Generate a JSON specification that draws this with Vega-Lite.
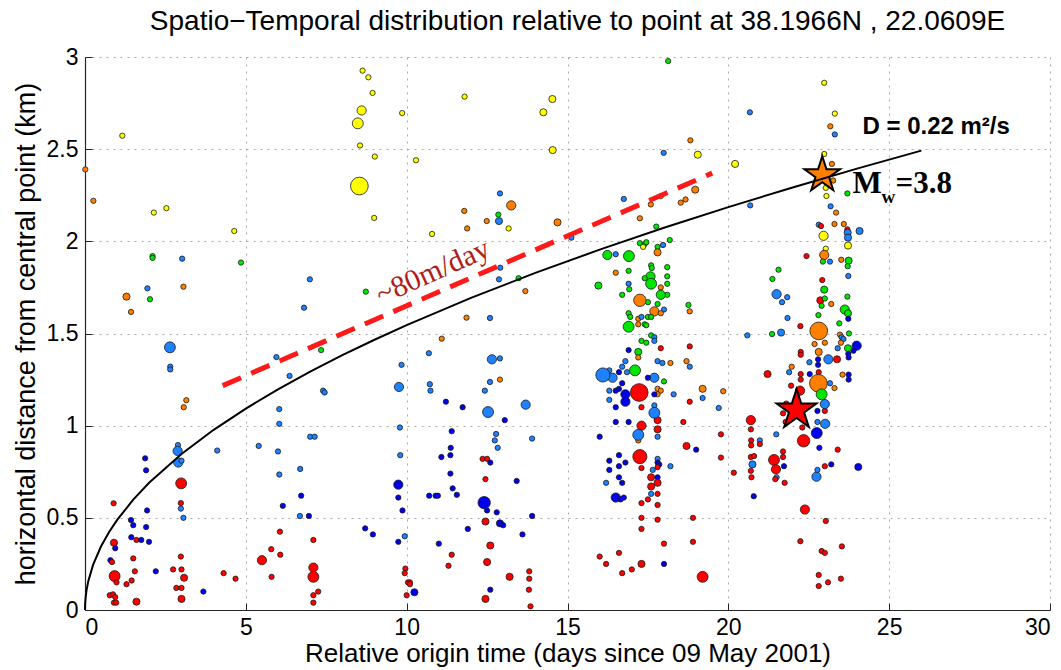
{
"$schema":"https://vega.github.io/schema/vega-lite/v6.json",
"width":965,"height":553,"autosize":"none",
"padding":{"left":85,"top":57,"right":11,"bottom":60},
"background":"white",
"title":{"text":"Spatio−Temporal distribution relative to point at 38.1966N , 22.0609E","font":"Liberation Sans","fontSize":28,"fontWeight":"normal","color":"#000","offset":10,"dx":10},
"config":{"view":{"stroke":null},
"axis":{"domainColor":"#262626","domainWidth":1.2,"tickColor":"#262626","tickSize":-7,"tickWidth":1,"labelFont":"Liberation Sans","labelFontSize":23,"labelColor":"#000","titleFont":"Liberation Sans","titleFontSize":27,"titleFontWeight":"normal","titleColor":"#000","grid":true,"gridColor":"#a8a8a8","gridDash":[2,5],"gridWidth":1,"gridOpacity":1}},
"datasets":{
"quakes":[
{"t":8.63,"r":2.926,"c":"Y","m":1},{"t":8.81,"r":2.89,"c":"Y","m":1},{"t":8.94,"r":2.805,"c":"Y","m":1},{"t":8.6,"r":2.71,"c":"Y","m":1.5},{"t":8.48,"r":2.64,"c":"Y","m":1.8},{"t":9.86,"r":2.696,"c":"Y","m":1},{"t":1.16,"r":2.573,"c":"Y","m":1},{"t":8.55,"r":2.52,"c":"Y","m":1},{"t":9.01,"r":2.46,"c":"Y","m":1},{"t":0.01,"r":2.39,"c":"O","m":1},{"t":0.26,"r":2.22,"c":"O","m":1},{"t":2.14,"r":2.156,"c":"Y","m":1},{"t":2.53,"r":2.18,"c":"Y","m":1},{"t":8.99,"r":2.127,"c":"Y","m":1},{"t":4.64,"r":2.056,"c":"Y","m":1},{"t":2.1,"r":1.92,"c":"G","m":1},{"t":2.1,"r":1.91,"c":"G","m":1},{"t":3.02,"r":1.906,"c":"L","m":1},{"t":4.85,"r":1.885,"c":"G","m":1},{"t":6.99,"r":1.794,"c":"L","m":1},{"t":8.73,"r":1.727,"c":"G","m":1},{"t":1.94,"r":1.745,"c":"L","m":1},{"t":3.06,"r":1.754,"c":"O","m":1},{"t":1.29,"r":1.7,"c":"O","m":1.2},{"t":2.02,"r":1.686,"c":"G","m":1},{"t":1.43,"r":1.617,"c":"O","m":1},{"t":6.81,"r":1.64,"c":"L","m":1},
{"t":18.13,"r":2.978,"c":"G","m":1},{"t":11.8,"r":2.785,"c":"Y","m":1},{"t":14.53,"r":2.772,"c":"Y","m":1.2},{"t":14.25,"r":2.7,"c":"Y","m":1.2},{"t":10.29,"r":2.44,"c":"Y","m":1},{"t":14.54,"r":2.495,"c":"Y","m":1.2},{"t":18.82,"r":2.548,"c":"O","m":1},{"t":17.99,"r":2.48,"c":"L","m":1},{"t":19.05,"r":2.47,"c":"Y","m":1.2},{"t":18.97,"r":2.28,"c":"O","m":1.2},{"t":12.9,"r":2.26,"c":"L","m":1},{"t":13.25,"r":2.195,"c":"O","m":1.5},{"t":11.79,"r":2.165,"c":"O","m":1},{"t":16.75,"r":2.23,"c":"L","m":1},{"t":17.9,"r":2.245,"c":"Y","m":1},{"t":17.59,"r":2.2,"c":"O","m":1},{"t":18.52,"r":2.21,"c":"O","m":1},{"t":18.67,"r":2.227,"c":"O","m":1},{"t":12.85,"r":2.145,"c":"G","m":1},{"t":12.87,"r":2.11,"c":"L","m":1.2},{"t":12.49,"r":2.11,"c":"O","m":1},{"t":11.88,"r":2.07,"c":"O","m":1},{"t":13.17,"r":2.07,"c":"Y","m":1},{"t":14.69,"r":2.103,"c":"O","m":1.2},{"t":10.79,"r":2.04,"c":"Y","m":1},{"t":17.25,"r":2.125,"c":"O","m":1},{"t":17.76,"r":2.08,"c":"G","m":1},{"t":15.12,"r":2.02,"c":"L","m":1},{"t":12.91,"r":1.857,"c":"L","m":1},{"t":12.87,"r":1.794,"c":"L","m":1},{"t":13.48,"r":1.8,"c":"G","m":1},{"t":13.69,"r":1.73,"c":"O","m":1},{"t":11.86,"r":1.586,"c":"O","m":1},{"t":12.59,"r":1.584,"c":"L","m":1},
{"t":22.98,"r":2.86,"c":"Y","m":1},{"t":20.67,"r":2.7,"c":"L","m":1},{"t":23.31,"r":2.693,"c":"Y","m":1},{"t":23.17,"r":2.624,"c":"O","m":1},{"t":23.31,"r":2.58,"c":"L","m":1},{"t":22.98,"r":2.474,"c":"Y","m":1},{"t":23.22,"r":2.42,"c":"O","m":1},{"t":20.21,"r":2.42,"c":"Y","m":1.2},{"t":23.26,"r":2.33,"c":"O","m":1},{"t":23.03,"r":2.29,"c":"Y","m":1},{"t":23.05,"r":2.246,"c":"Y","m":1},{"t":23.7,"r":2.26,"c":"G","m":1},{"t":20.68,"r":2.195,"c":"L","m":1},{"t":23.18,"r":2.19,"c":"L","m":1},{"t":23.35,"r":2.156,"c":"O","m":1},{"t":22.81,"r":2.09,"c":"L","m":1},{"t":22.88,"r":2.083,"c":"R","m":1},{"t":23.3,"r":2.094,"c":"O","m":1},{"t":23.59,"r":2.094,"c":"O","m":1},{"t":23.7,"r":2.065,"c":"R","m":1},{"t":24.08,"r":2.056,"c":"L","m":1.2},{"t":23.71,"r":2.047,"c":"L","m":1.2},{"t":23.72,"r":2.02,"c":"L","m":1.2},{"t":22.96,"r":2.03,"c":"Y","m":1.5},{"t":23.72,"r":1.977,"c":"Y","m":1.2},{"t":23.03,"r":1.96,"c":"Y","m":1},{"t":22.98,"r":1.926,"c":"O","m":1.5},{"t":22.43,"r":1.92,"c":"R","m":1},{"t":23.16,"r":1.89,"c":"L","m":1},{"t":23.51,"r":1.9,"c":"O","m":1},{"t":23.74,"r":1.895,"c":"G","m":1.2},{"t":23.71,"r":1.865,"c":"G","m":1},{"t":22.94,"r":1.89,"c":"G","m":1},{"t":23.73,"r":1.812,"c":"L","m":1},{"t":21.56,"r":1.846,"c":"G","m":1},{"t":21.37,"r":1.796,"c":"G","m":1},{"t":22.92,"r":1.79,"c":"R","m":1},{"t":22.98,"r":1.738,"c":"G","m":1.2},{"t":21.5,"r":1.713,"c":"L","m":1.5},{"t":21.83,"r":1.697,"c":"L","m":1},{"t":21.67,"r":1.67,"c":"L","m":1},{"t":22.86,"r":1.68,"c":"R","m":1.2},{"t":23.0,"r":1.69,"c":"G","m":1},{"t":22.9,"r":1.65,"c":"G","m":1},{"t":23.2,"r":1.66,"c":"O","m":1},{"t":23.7,"r":1.7,"c":"G","m":1},{"t":23.62,"r":1.63,"c":"G","m":1.5},{"t":23.72,"r":1.61,"c":"G","m":1.2},{"t":23.73,"r":1.58,"c":"B","m":1},{"t":22.8,"r":1.6,"c":"G","m":1},{"t":21.84,"r":1.584,"c":"L","m":1},{"t":22.24,"r":1.54,"c":"R","m":1},{"t":23.45,"r":1.555,"c":"G","m":1},{"t":20.59,"r":1.49,"c":"L","m":1},{"t":21.36,"r":1.497,"c":"G","m":1},{"t":21.64,"r":1.505,"c":"L","m":1.2},{"t":23.47,"r":1.494,"c":"O","m":1},{"t":23.52,"r":1.48,"c":"L","m":1},{"t":23.58,"r":1.47,"c":"L","m":1},{"t":23.75,"r":1.5,"c":"G","m":1},{"t":23.99,"r":1.434,"c":"B","m":1.5},{"t":23.89,"r":1.407,"c":"B","m":1},{"t":23.72,"r":1.42,"c":"G","m":1.2},{"t":23.73,"r":1.39,"c":"B","m":1},{"t":23.74,"r":1.37,"c":"B","m":1},{"t":23.5,"r":1.45,"c":"O","m":1},{"t":23.4,"r":1.42,"c":"L","m":1},{"t":23.0,"r":1.45,"c":"O","m":1},{"t":22.68,"r":1.443,"c":"O","m":1},{"t":22.81,"r":1.4,"c":"O","m":1.2},{"t":22.79,"r":1.36,"c":"B","m":1},{"t":22.79,"r":1.33,"c":"B","m":1},{"t":23.11,"r":1.36,"c":"L","m":1.5},{"t":23.38,"r":1.36,"c":"R","m":1.2},{"t":22.25,"r":1.4,"c":"R","m":1},{"t":22.25,"r":1.385,"c":"R","m":1},{"t":22.52,"r":1.344,"c":"L","m":1},{"t":21.97,"r":1.32,"c":"O","m":1},{"t":21.89,"r":1.29,"c":"L","m":1},{"t":21.22,"r":1.28,"c":"R","m":1.2},{"t":22.25,"r":1.28,"c":"R","m":1},{"t":22.53,"r":1.28,"c":"B","m":1},{"t":22.25,"r":1.25,"c":"R","m":1},{"t":22.81,"r":1.29,"c":"R","m":1},{"t":23.16,"r":1.23,"c":"L","m":1},{"t":23.3,"r":1.204,"c":"O","m":1},{"t":23.55,"r":1.277,"c":"O","m":1},{"t":23.74,"r":1.277,"c":"B","m":1},{"t":23.74,"r":1.25,"c":"B","m":1},{"t":21.95,"r":1.217,"c":"R","m":1},{"t":22.23,"r":1.19,"c":"R","m":1.5},{"t":21.8,"r":1.12,"c":"R","m":1},{"t":21.7,"r":1.067,"c":"R","m":1},{"t":21.78,"r":1.02,"c":"R","m":1},{"t":22.77,"r":1.08,"c":"B","m":1},{"t":23.0,"r":1.08,"c":"R","m":1},{"t":22.77,"r":1.02,"c":"L","m":1},{"t":23.01,"r":1.01,"c":"L","m":1.5},{"t":22.75,"r":0.96,"c":"B","m":1.8},{"t":22.3,"r":0.99,"c":"R","m":1},{"t":22.34,"r":0.918,"c":"R","m":2.1},{"t":22.83,"r":0.88,"c":"B","m":1},{"t":23.4,"r":0.87,"c":"R","m":1},{"t":21.49,"r":0.953,"c":"L","m":1},{"t":20.7,"r":1.03,"c":"R","m":1.5},{"t":20.7,"r":0.98,"c":"R","m":1},{"t":20.71,"r":0.92,"c":"R","m":1},{"t":20.71,"r":0.893,"c":"R","m":1},{"t":20.98,"r":0.92,"c":"L","m":1},{"t":20.98,"r":0.9,"c":"R","m":1},{"t":21.7,"r":0.86,"c":"R","m":1},{"t":21.7,"r":0.83,"c":"R","m":1},{"t":21.42,"r":0.814,"c":"R","m":1.8},{"t":21.48,"r":0.763,"c":"R","m":1.5},{"t":20.7,"r":0.83,"c":"R","m":1},{"t":20.8,"r":0.835,"c":"R","m":1},{"t":20.75,"r":0.79,"c":"L","m":1.2},{"t":20.7,"r":0.755,"c":"R","m":1},{"t":20.72,"r":0.72,"c":"R","m":1},{"t":20.17,"r":0.745,"c":"R","m":1},{"t":21.5,"r":0.72,"c":"L","m":1},{"t":21.46,"r":0.71,"c":"R","m":1},{"t":21.75,"r":0.69,"c":"R","m":1},{"t":21.73,"r":0.78,"c":"B","m":1},{"t":22.74,"r":0.723,"c":"L","m":1.5},{"t":22.77,"r":0.76,"c":"L","m":1},{"t":23.0,"r":0.78,"c":"R","m":1},{"t":23.2,"r":0.79,"c":"B","m":1},{"t":24.04,"r":0.776,"c":"B","m":1.2},{"t":20.79,"r":0.617,"c":"B","m":1},{"t":22.38,"r":0.545,"c":"R","m":1.5},{"t":23.03,"r":0.483,"c":"R","m":1},{"t":22.24,"r":0.373,"c":"R","m":1},{"t":22.9,"r":0.32,"c":"R","m":1},{"t":23.0,"r":0.31,"c":"R","m":1},{"t":23.53,"r":0.345,"c":"R","m":1},{"t":22.81,"r":0.19,"c":"R","m":1},{"t":23.1,"r":0.15,"c":"R","m":1},{"t":23.5,"r":0.17,"c":"R","m":1},{"t":22.81,"r":0.13,"c":"R","m":1},{"t":19.84,"r":1.187,"c":"O","m":1},{"t":19.7,"r":1.096,"c":"L","m":1},{"t":19.77,"r":0.953,"c":"R","m":1},{"t":19.77,"r":0.827,"c":"R","m":1},
{"t":2.64,"r":1.425,"c":"L","m":1.8},{"t":2.65,"r":1.32,"c":"L","m":1},{"t":2.65,"r":1.305,"c":"L","m":1},{"t":3.15,"r":1.138,"c":"O","m":1},{"t":3.07,"r":1.1,"c":"O","m":1},{"t":2.89,"r":0.895,"c":"L","m":1},{"t":2.88,"r":0.863,"c":"L","m":1.5},{"t":2.9,"r":0.8,"c":"L","m":1.5},{"t":3.0,"r":0.81,"c":"L","m":1},{"t":1.87,"r":0.823,"c":"B","m":1},{"t":1.9,"r":0.758,"c":"B","m":1},{"t":2.99,"r":0.687,"c":"R","m":1.8},{"t":0.89,"r":0.579,"c":"R","m":1},{"t":2.98,"r":0.58,"c":"R","m":1},{"t":2.98,"r":0.55,"c":"L","m":1},{"t":3.06,"r":0.5,"c":"L","m":1},{"t":1.93,"r":0.54,"c":"B","m":1},{"t":1.43,"r":0.488,"c":"B","m":1},{"t":1.5,"r":0.46,"c":"B","m":1},{"t":1.9,"r":0.45,"c":"B","m":1},{"t":1.44,"r":0.395,"c":"B","m":1},{"t":1.6,"r":0.38,"c":"R","m":1},{"t":1.75,"r":0.38,"c":"B","m":1},{"t":1.99,"r":0.37,"c":"B","m":1},{"t":0.9,"r":0.365,"c":"R","m":1.2},{"t":0.94,"r":0.335,"c":"B","m":1},{"t":0.79,"r":0.27,"c":"B","m":1},{"t":0.84,"r":0.26,"c":"R","m":1},{"t":1.5,"r":0.28,"c":"R","m":1},{"t":1.55,"r":0.21,"c":"R","m":1},{"t":0.92,"r":0.184,"c":"R","m":1.8},{"t":0.98,"r":0.15,"c":"R","m":1},{"t":1.29,"r":0.14,"c":"R","m":1},{"t":1.45,"r":0.16,"c":"R","m":1},{"t":2.2,"r":0.21,"c":"B","m":1},{"t":2.98,"r":0.29,"c":"R","m":1},{"t":2.74,"r":0.22,"c":"R","m":1},{"t":3.0,"r":0.22,"c":"R","m":1},{"t":3.08,"r":0.175,"c":"R","m":1.2},{"t":2.84,"r":0.12,"c":"R","m":1},{"t":3.0,"r":0.12,"c":"R","m":1},{"t":3.0,"r":0.06,"c":"R","m":1.2},{"t":1.6,"r":0.045,"c":"R","m":1.2},{"t":0.77,"r":0.08,"c":"R","m":1},{"t":0.87,"r":0.085,"c":"R","m":1},{"t":0.94,"r":0.07,"c":"R","m":1},{"t":0.9,"r":0.04,"c":"R","m":1},{"t":0.97,"r":0.04,"c":"R","m":1},{"t":3.68,"r":0.1,"c":"B","m":1},{"t":4.31,"r":0.2,"c":"R","m":1},{"t":4.68,"r":0.17,"c":"R","m":1},{"t":4.11,"r":0.865,"c":"L","m":1},{"t":5.95,"r":1.372,"c":"L","m":1},{"t":6.36,"r":1.27,"c":"L","m":1},{"t":7.34,"r":1.41,"c":"G","m":1},{"t":7.4,"r":1.19,"c":"L","m":1},{"t":7.45,"r":1.18,"c":"L","m":1},{"t":6.04,"r":1.09,"c":"L","m":1},{"t":6.04,"r":1.01,"c":"L","m":1},{"t":5.4,"r":0.89,"c":"L","m":1},{"t":6.0,"r":0.86,"c":"L","m":1},{"t":7.0,"r":0.94,"c":"L","m":1},{"t":7.14,"r":0.94,"c":"L","m":1},{"t":6.04,"r":0.735,"c":"L","m":1},{"t":6.69,"r":0.765,"c":"L","m":1},{"t":6.72,"r":0.62,"c":"B","m":1},{"t":6.15,"r":0.565,"c":"B","m":1},{"t":6.68,"r":0.51,"c":"L","m":1},{"t":6.96,"r":0.51,"c":"B","m":1},{"t":6.06,"r":0.425,"c":"R","m":1},{"t":7.1,"r":0.38,"c":"R","m":1},{"t":5.79,"r":0.33,"c":"R","m":1},{"t":6.07,"r":0.3,"c":"R","m":1},{"t":5.5,"r":0.27,"c":"R","m":1.5},{"t":5.8,"r":0.18,"c":"R","m":1},{"t":7.1,"r":0.23,"c":"R","m":1.5},{"t":7.1,"r":0.18,"c":"R","m":1.8},{"t":7.25,"r":0.1,"c":"R","m":1},{"t":7.1,"r":0.08,"c":"R","m":1},{"t":7.1,"r":0.04,"c":"R","m":1},{"t":8.71,"r":0.443,"c":"B","m":1},{"t":8.95,"r":0.41,"c":"B","m":1},{"t":9.84,"r":1.33,"c":"L","m":1},{"t":9.76,"r":1.21,"c":"L","m":1.5},{"t":9.79,"r":0.99,"c":"L","m":1},{"t":9.8,"r":0.84,"c":"L","m":1},{"t":9.74,"r":0.68,"c":"B","m":1.5},{"t":9.74,"r":0.61,"c":"B","m":1},{"t":9.87,"r":0.54,"c":"B","m":1},{"t":9.74,"r":0.37,"c":"B","m":1},{"t":9.94,"r":0.4,"c":"L","m":1},{"t":9.96,"r":0.225,"c":"R","m":1},{"t":9.94,"r":0.2,"c":"R","m":1},{"t":10.04,"r":0.15,"c":"R","m":1},{"t":10.0,"r":0.08,"c":"R","m":1},
{"t":11.09,"r":1.472,"c":"O","m":1},{"t":10.69,"r":1.393,"c":"L","m":1},{"t":12.65,"r":1.36,"c":"L","m":1.5},{"t":12.9,"r":1.365,"c":"L","m":1},{"t":12.59,"r":1.237,"c":"L","m":1},{"t":12.9,"r":1.25,"c":"O","m":1},{"t":10.72,"r":1.225,"c":"L","m":1},{"t":10.74,"r":1.19,"c":"L","m":1},{"t":12.43,"r":1.19,"c":"L","m":1},{"t":11.22,"r":1.13,"c":"B","m":1},{"t":11.74,"r":1.1,"c":"B","m":1},{"t":12.53,"r":1.074,"c":"L","m":1.8},{"t":13.7,"r":1.114,"c":"L","m":1.5},{"t":13.05,"r":1.03,"c":"B","m":1},{"t":11.4,"r":0.97,"c":"B","m":1},{"t":12.78,"r":0.955,"c":"L","m":1},{"t":12.74,"r":0.92,"c":"L","m":1},{"t":12.83,"r":0.88,"c":"L","m":1},{"t":13.9,"r":0.93,"c":"L","m":1},{"t":11.37,"r":0.88,"c":"B","m":1},{"t":11.36,"r":0.84,"c":"B","m":1},{"t":11.08,"r":0.83,"c":"B","m":1},{"t":12.36,"r":0.82,"c":"R","m":1},{"t":12.5,"r":0.82,"c":"R","m":1},{"t":12.6,"r":0.8,"c":"B","m":1},{"t":12.45,"r":0.71,"c":"R","m":1},{"t":13.42,"r":0.7,"c":"B","m":1},{"t":11.36,"r":0.74,"c":"B","m":1},{"t":11.43,"r":0.66,"c":"B","m":1},{"t":11.56,"r":0.625,"c":"B","m":1},{"t":10.7,"r":0.62,"c":"B","m":1},{"t":10.9,"r":0.62,"c":"B","m":1},{"t":10.97,"r":0.62,"c":"B","m":1},{"t":12.41,"r":0.582,"c":"B","m":2.1},{"t":12.5,"r":0.54,"c":"B","m":1},{"t":12.8,"r":0.53,"c":"B","m":1},{"t":13.9,"r":0.51,"c":"B","m":1},{"t":12.45,"r":0.48,"c":"R","m":1.2},{"t":12.9,"r":0.47,"c":"B","m":1.2},{"t":13.0,"r":0.46,"c":"B","m":1},{"t":13.6,"r":0.41,"c":"B","m":1},{"t":11.9,"r":0.44,"c":"B","m":1},{"t":11.0,"r":0.36,"c":"B","m":1},{"t":12.6,"r":0.35,"c":"R","m":1.2},{"t":11.4,"r":0.3,"c":"R","m":1},{"t":12.5,"r":0.26,"c":"R","m":1.2},{"t":11.3,"r":0.24,"c":"R","m":1},{"t":13.81,"r":0.21,"c":"R","m":1},{"t":13.81,"r":0.17,"c":"R","m":1},{"t":13.2,"r":0.18,"c":"R","m":1.2},{"t":10.1,"r":0.15,"c":"R","m":1},{"t":10.1,"r":0.14,"c":"R","m":1},{"t":10.24,"r":0.096,"c":"B","m":1.2},{"t":12.6,"r":0.11,"c":"B","m":1},{"t":13.8,"r":0.11,"c":"R","m":1},{"t":12.45,"r":0.06,"c":"R","m":1.2},{"t":13.85,"r":0.02,"c":"R","m":1},
{"t":18.18,"r":2.007,"c":"G","m":1},{"t":17.25,"r":1.99,"c":"G","m":1},{"t":17.4,"r":1.985,"c":"G","m":1},{"t":17.45,"r":1.995,"c":"G","m":1},{"t":17.35,"r":1.97,"c":"Y","m":1},{"t":17.8,"r":1.97,"c":"G","m":1},{"t":17.8,"r":1.94,"c":"O","m":1.2},{"t":17.97,"r":1.98,"c":"L","m":1},{"t":16.24,"r":1.926,"c":"G","m":1.5},{"t":16.5,"r":1.93,"c":"L","m":1},{"t":16.91,"r":1.92,"c":"G","m":1.8},{"t":17.6,"r":1.87,"c":"G","m":1},{"t":17.62,"r":1.855,"c":"G","m":1},{"t":16.5,"r":1.83,"c":"O","m":1},{"t":16.9,"r":1.84,"c":"G","m":1},{"t":18.1,"r":1.86,"c":"G","m":1},{"t":18.1,"r":1.81,"c":"G","m":1},{"t":18.1,"r":1.77,"c":"G","m":1},{"t":18.1,"r":1.71,"c":"G","m":1},{"t":16.9,"r":1.77,"c":"L","m":1},{"t":16.92,"r":1.74,"c":"G","m":1},{"t":17.58,"r":1.81,"c":"G","m":1.5},{"t":17.4,"r":1.8,"c":"G","m":1},{"t":17.6,"r":1.77,"c":"G","m":1.8},{"t":17.9,"r":1.75,"c":"O","m":1},{"t":17.9,"r":1.71,"c":"G","m":1.5},{"t":15.96,"r":1.76,"c":"G","m":1.2},{"t":16.7,"r":1.71,"c":"G","m":1},{"t":17.5,"r":1.67,"c":"G","m":1},{"t":17.8,"r":1.66,"c":"G","m":1},{"t":18.76,"r":1.655,"c":"G","m":1},{"t":18.8,"r":1.62,"c":"O","m":1},{"t":18.0,"r":1.63,"c":"L","m":1},{"t":17.7,"r":1.62,"c":"O","m":1.5},{"t":17.9,"r":1.61,"c":"O","m":1},{"t":16.9,"r":1.61,"c":"G","m":1},{"t":16.95,"r":1.59,"c":"G","m":1},{"t":17.2,"r":1.58,"c":"O","m":1},{"t":17.2,"r":1.55,"c":"O","m":1},{"t":17.3,"r":1.59,"c":"L","m":1},{"t":17.5,"r":1.59,"c":"G","m":1},{"t":17.6,"r":1.59,"c":"G","m":1},{"t":17.4,"r":1.55,"c":"G","m":1},{"t":17.45,"r":1.545,"c":"G","m":1},{"t":17.6,"r":1.49,"c":"G","m":1},{"t":17.7,"r":1.48,"c":"L","m":1},{"t":17.7,"r":1.46,"c":"L","m":1},{"t":17.3,"r":1.46,"c":"G","m":1},{"t":17.45,"r":1.45,"c":"G","m":1},{"t":18.8,"r":1.43,"c":"R","m":1},{"t":17.9,"r":1.42,"c":"R","m":1},{"t":16.9,"r":1.41,"c":"B","m":1},{"t":17.2,"r":1.4,"c":"G","m":1.2},{"t":17.2,"r":1.37,"c":"O","m":1},{"t":16.8,"r":1.35,"c":"L","m":1},{"t":17.8,"r":1.35,"c":"L","m":1},{"t":17.95,"r":1.34,"c":"L","m":1},{"t":18.2,"r":1.34,"c":"O","m":1},{"t":18.7,"r":1.35,"c":"O","m":1},{"t":18.8,"r":1.32,"c":"L","m":1},{"t":16.4,"r":1.26,"c":"L","m":1.5},{"t":16.3,"r":1.3,"c":"L","m":1},{"t":16.7,"r":1.32,"c":"L","m":1},{"t":16.6,"r":1.29,"c":"B","m":1},{"t":16.85,"r":1.29,"c":"L","m":1},{"t":17.7,"r":1.26,"c":"L","m":1.5},{"t":17.5,"r":1.26,"c":"B","m":1},{"t":18.0,"r":1.24,"c":"G","m":1},{"t":17.8,"r":1.2,"c":"O","m":1},{"t":17.9,"r":1.19,"c":"O","m":1},{"t":17.8,"r":1.17,"c":"O","m":1},{"t":16.7,"r":1.23,"c":"B","m":1},{"t":16.6,"r":1.2,"c":"B","m":1},{"t":16.5,"r":1.19,"c":"B","m":1},{"t":16.8,"r":1.17,"c":"B","m":1.5},{"t":16.3,"r":1.19,"c":"L","m":1},{"t":16.3,"r":1.14,"c":"L","m":1},{"t":16.8,"r":1.13,"c":"B","m":1.5},{"t":17.7,"r":1.17,"c":"B","m":1},{"t":18.3,"r":1.17,"c":"L","m":1},{"t":19.2,"r":1.2,"c":"O","m":1.2},{"t":19.2,"r":1.15,"c":"L","m":1},{"t":18.8,"r":1.13,"c":"R","m":1},{"t":16.5,"r":1.1,"c":"B","m":1},{"t":17.3,"r":1.1,"c":"R","m":1},{"t":17.7,"r":1.11,"c":"L","m":1},{"t":17.8,"r":1.03,"c":"R","m":1.2},{"t":17.8,"r":0.98,"c":"R","m":1.2},{"t":16.5,"r":1.02,"c":"B","m":1},{"t":16.9,"r":1.02,"c":"B","m":1},{"t":18.6,"r":1.02,"c":"R","m":1},{"t":17.3,"r":1.0,"c":"R","m":1.5},{"t":16.0,"r":0.94,"c":"B","m":1},{"t":17.8,"r":0.94,"c":"L","m":1},{"t":17.2,"r":0.92,"c":"O","m":1},{"t":18.7,"r":0.89,"c":"R","m":1.2},{"t":19.0,"r":0.87,"c":"B","m":1},{"t":16.6,"r":0.84,"c":"B","m":1},{"t":16.8,"r":0.8,"c":"B","m":1},{"t":16.3,"r":0.81,"c":"B","m":1},{"t":16.6,"r":0.78,"c":"B","m":1},{"t":16.3,"r":0.76,"c":"B","m":1},{"t":17.8,"r":0.82,"c":"L","m":1},{"t":17.8,"r":0.8,"c":"B","m":1},{"t":17.85,"r":0.79,"c":"B","m":1},{"t":17.3,"r":0.77,"c":"R","m":1},{"t":17.65,"r":0.76,"c":"L","m":1},{"t":17.8,"r":0.775,"c":"R","m":1},{"t":17.6,"r":0.72,"c":"R","m":1.2},{"t":17.8,"r":0.72,"c":"B","m":1},{"t":16.6,"r":0.72,"c":"B","m":1},{"t":16.7,"r":0.69,"c":"B","m":1},{"t":16.2,"r":0.69,"c":"L","m":1},{"t":17.6,"r":0.67,"c":"R","m":1.2},{"t":17.8,"r":0.69,"c":"R","m":1.2},{"t":18.2,"r":0.78,"c":"L","m":1},{"t":16.5,"r":0.61,"c":"B","m":1.5},{"t":16.65,"r":0.6,"c":"B","m":1},{"t":16.75,"r":0.61,"c":"B","m":1},{"t":17.6,"r":0.63,"c":"L","m":1},{"t":17.8,"r":0.63,"c":"R","m":1},{"t":17.5,"r":0.6,"c":"R","m":1},{"t":17.3,"r":0.58,"c":"R","m":1},{"t":17.8,"r":0.57,"c":"R","m":1},{"t":17.3,"r":0.5,"c":"R","m":1},{"t":17.8,"r":0.49,"c":"R","m":1},{"t":18.9,"r":0.5,"c":"R","m":1},{"t":17.3,"r":0.44,"c":"R","m":1},{"t":18.0,"r":0.36,"c":"R","m":1},{"t":18.9,"r":0.37,"c":"R","m":1},{"t":16.6,"r":0.31,"c":"R","m":1},{"t":16.0,"r":0.29,"c":"R","m":1},{"t":16.2,"r":0.25,"c":"R","m":1},{"t":17.3,"r":0.25,"c":"R","m":1.2},{"t":17.0,"r":0.22,"c":"R","m":1},{"t":16.7,"r":0.2,"c":"R","m":1},{"t":18.0,"r":0.25,"c":"B","m":1},{"t":19.2,"r":0.18,"c":"R","m":1.8},
{"t":8.53,"r":2.3,"c":"Y","m":3.5},{"t":17.25,"r":1.68,"c":"O","m":2.1},{"t":16.9,"r":1.537,"c":"G","m":1.8},{"t":17.1,"r":1.3,"c":"G","m":1.8},{"t":16.1,"r":1.275,"c":"L","m":2.5},{"t":17.7,"r":1.07,"c":"L","m":1.8},{"t":17.2,"r":0.95,"c":"L","m":1.8},{"t":17.23,"r":1.18,"c":"R","m":3.5},{"t":17.25,"r":0.832,"c":"R","m":2.5},{"t":22.81,"r":1.514,"c":"O","m":3.5},{"t":22.8,"r":1.23,"c":"O","m":3.5},{"t":22.9,"r":1.17,"c":"G","m":1.8},{"t":23.0,"r":1.117,"c":"L","m":1.5}
],
"curve":[{"t":0,"r":0},{"t":0.005,"r":0.0346},{"t":0.02,"r":0.0691},{"t":0.05,"r":0.1093},{"t":0.1,"r":0.1545},{"t":0.25,"r":0.2444},{"t":0.5,"r":0.3456},{"t":0.75,"r":0.4232},{"t":1,"r":0.4887},{"t":1.5,"r":0.5986},{"t":2,"r":0.6912},{"t":3,"r":0.8465},{"t":4,"r":0.9775},{"t":5,"r":1.0928},{"t":6,"r":1.1971},{"t":7,"r":1.293},{"t":8,"r":1.3823},{"t":9,"r":1.4662},{"t":10,"r":1.5455},{"t":12,"r":1.693},{"t":14,"r":1.8287},{"t":16,"r":1.9549},{"t":18,"r":2.0736},{"t":20,"r":2.1857},{"t":22,"r":2.2924},{"t":24,"r":2.3943},{"t":26,"r":2.492}],
"trend":[{"t":4.28,"r":1.217},{"t":19.5,"r":2.37}],
"star1":[{"t":22.92,"r":2.36,"c":"O"}],
"star2":[{"t":22.12,"r":1.085,"c":"R"}]
},
"layer":[
{"data":{"name":"quakes"},"mark":{"type":"circle","stroke":"#1a1a1a","strokeWidth":0.8,"opacity":1,"clip":false},
"encoding":{
"x":{"field":"t","type":"quantitative","scale":{"domain":[0,30],"nice":false},"axis":{"values":[0,5,10,15,20,25,30],"format":"d","title":"Relative origin time (days since 09 May 2001)","titleFontSize":26,"labelPadding":13,"titlePadding":1}},
"y":{"field":"r","type":"quantitative","scale":{"domain":[0,3],"nice":false},"axis":{"values":[0,0.5,1,1.5,2,2.5,3],"format":"~g","title":"horizontal distance from central point (km)","labelPadding":14,"titlePadding":6}},
"color":{"field":"c","type":"nominal","scale":{"domain":["R","B","L","G","O","Y"],"range":["#ff0000","#0000ee","#1e82ff","#00e600","#ff8000","#ffff00"]},"legend":null},
"size":{"field":"m","type":"quantitative","scale":{"type":"linear","domain":[1,3.5],"range":[28,314]},"legend":null}}},
{"data":{"name":"star1"},"mark":{"type":"point","shape":"M0,-1L0.2245,-0.309L0.9511,-0.309L0.3633,0.118L0.5878,0.809L0,0.382L-0.5878,0.809L-0.3633,0.118L-0.9511,-0.309L-0.2245,-0.309Z","filled":true,"stroke":"#000","strokeWidth":2,"size":1400,"opacity":1},
"encoding":{"x":{"field":"t","type":"quantitative"},"y":{"field":"r","type":"quantitative"},"color":{"field":"c","type":"nominal","legend":null}}},
{"data":{"name":"star2"},"mark":{"type":"point","shape":"M0,-1L0.2245,-0.309L0.9511,-0.309L0.3633,0.118L0.5878,0.809L0,0.382L-0.5878,0.809L-0.3633,0.118L-0.9511,-0.309L-0.2245,-0.309Z","filled":true,"stroke":"#000","strokeWidth":2,"size":1750,"opacity":1},
"encoding":{"x":{"field":"t","type":"quantitative"},"y":{"field":"r","type":"quantitative"},"color":{"field":"c","type":"nominal","legend":null}}},
{"data":{"name":"curve"},"mark":{"type":"line","color":"#000","strokeWidth":2},
"encoding":{"x":{"field":"t","type":"quantitative"},"y":{"field":"r","type":"quantitative"}}},
{"data":{"name":"trend"},"mark":{"type":"line","color":"#ff1a1a","strokeWidth":5,"strokeDash":[20,11]},
"encoding":{"x":{"field":"t","type":"quantitative"},"y":{"field":"r","type":"quantitative"}}},
{"data":{"values":[{"t":10.82,"r":1.834}]},"mark":{"type":"text","text":"~80m/day","font":"Liberation Serif","fontSize":30,"color":"#b01c1c","angle":-24,"align":"center","baseline":"middle"},
"encoding":{"x":{"field":"t","type":"quantitative"},"y":{"field":"r","type":"quantitative"}}},
{"data":{"values":[{"t":24.17,"r":2.622}]},"mark":{"type":"text","text":"D = 0.22 m²/s","font":"Liberation Sans","fontSize":24,"fontWeight":"bold","color":"#000","align":"left","baseline":"middle"},
"encoding":{"x":{"field":"t","type":"quantitative"},"y":{"field":"r","type":"quantitative"}}},
{"data":{"values":[{"t":23.86,"r":2.261}]},"mark":{"type":"text","text":"M","font":"Liberation Serif","fontSize":31,"fontWeight":"bold","color":"#000","align":"left","baseline":"alphabetic"},
"encoding":{"x":{"field":"t","type":"quantitative"},"y":{"field":"r","type":"quantitative"}}},
{"data":{"values":[{"t":24.76,"r":2.208}]},"mark":{"type":"text","text":"w","font":"Liberation Serif","fontSize":19,"fontWeight":"bold","color":"#000","align":"left","baseline":"alphabetic"},
"encoding":{"x":{"field":"t","type":"quantitative"},"y":{"field":"r","type":"quantitative"}}},
{"data":{"values":[{"t":25.2,"r":2.261}]},"mark":{"type":"text","text":"=3.8","font":"Liberation Serif","fontSize":31,"fontWeight":"bold","color":"#000","align":"left","baseline":"alphabetic"},
"encoding":{"x":{"field":"t","type":"quantitative"},"y":{"field":"r","type":"quantitative"}}}
]
}
